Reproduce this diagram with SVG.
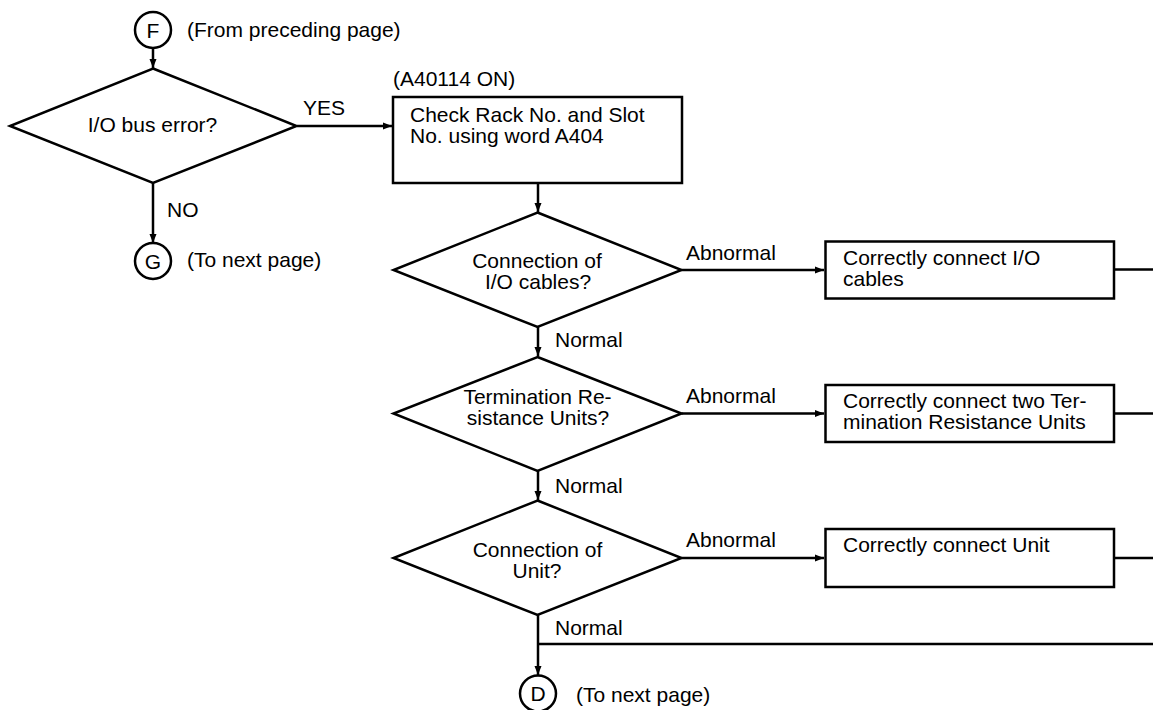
<svg xmlns="http://www.w3.org/2000/svg" width="1153" height="710" viewBox="0 0 1153 710">
<style>
.shape{fill:#fff;stroke:#000;stroke-width:2.5}
.ln{fill:none;stroke:#000;stroke-width:2.5}
.t{font-family:"Liberation Sans",Arial,sans-serif;font-size:21px;fill:#000}
.m{text-anchor:middle}
</style>
<defs>
<marker id="arr" markerUnits="userSpaceOnUse" markerWidth="10" markerHeight="8" refX="9" refY="4" orient="auto">
<path d="M0,0.5 L9,4 L0,7.5 Z" fill="#000"/>
</marker>
</defs>
<rect width="1153" height="710" fill="#fff"/>
<g id="connectors">
<path class="ln" d="M153,48 V68" marker-end="url(#arr)"/>
<path class="ln" d="M297,126 H392" marker-end="url(#arr)"/>
<path class="ln" d="M153,183 V243" marker-end="url(#arr)"/>
<path class="ln" d="M538,183 V212" marker-end="url(#arr)"/>
<path class="ln" d="M681.5,270 H824" marker-end="url(#arr)"/>
<path class="ln" d="M538,327 V356" marker-end="url(#arr)"/>
<path class="ln" d="M681.5,413.5 H824" marker-end="url(#arr)"/>
<path class="ln" d="M538,471 V500" marker-end="url(#arr)"/>
<path class="ln" d="M681.5,558 H824" marker-end="url(#arr)"/>
<path class="ln" d="M538,615 V675" marker-end="url(#arr)"/>
<path class="ln" d="M538,644 H1153"/>
<path class="ln" d="M1114,269.5 H1153"/>
<path class="ln" d="M1114,413.5 H1153"/>
<path class="ln" d="M1114,558 H1153"/>
<text class="t" x="303" y="115">YES</text>
<text class="t" x="167" y="217">NO</text>
<text class="t" x="686" y="260">Abnormal</text>
<text class="t" x="555" y="347">Normal</text>
<text class="t" x="686" y="403">Abnormal</text>
<text class="t" x="555" y="493">Normal</text>
<text class="t" x="686" y="547">Abnormal</text>
<text class="t" x="555" y="635">Normal</text>
</g>
<g id="node-F">
<circle class="shape" cx="153" cy="30" r="18"/>
<text class="t m" x="153" y="37.5">F</text>
<text class="t" x="187" y="37">(From preceding page)</text>
</g>
<g id="node-io-bus">
<polygon class="shape" points="153,68.5 296.5,126 153,183 10,126"/>
<text class="t m" x="152.5" y="132">I/O bus error?</text>
</g>
<g id="node-G">
<circle class="shape" cx="153" cy="261" r="18"/>
<text class="t m" x="153" y="268.5">G</text>
<text class="t" x="187" y="267">(To next page)</text>
</g>
<g id="node-check-rack">
<text class="t" x="393" y="86">(A40114 ON)</text>
<rect class="shape" x="393" y="97" width="289" height="86"/>
<text class="t" x="410" y="122">Check Rack No. and Slot</text>
<text class="t" x="410" y="143">No. using word A404</text>
</g>
<g id="node-io-cables">
<polygon class="shape" points="537.5,212.5 681.5,270 537.5,327 393.5,270"/>
<text class="t m" x="537" y="268">Connection of</text>
<text class="t m" x="538" y="289">I/O cables?</text>
</g>
<g id="node-fix-cables">
<rect class="shape" x="825.5" y="241.5" width="288.5" height="57"/>
<text class="t" x="843" y="265">Correctly connect I/O</text>
<text class="t" x="843" y="286">cables</text>
</g>
<g id="node-termination">
<polygon class="shape" points="537.5,357 681.5,413.5 537.5,471 393.5,413.5"/>
<text class="t m" x="537.5" y="404">Termination Re-</text>
<text class="t m" x="538" y="425">sistance Units?</text>
</g>
<g id="node-fix-termination">
<rect class="shape" x="825.5" y="385" width="288.5" height="57"/>
<text class="t" x="843" y="408">Correctly connect two Ter-</text>
<text class="t" x="843" y="429">mination Resistance Units</text>
</g>
<g id="node-unit">
<polygon class="shape" points="537.5,500.5 681.5,558 537.5,615 393.5,558"/>
<text class="t m" x="537.5" y="557">Connection of</text>
<text class="t m" x="537" y="578">Unit?</text>
</g>
<g id="node-fix-unit">
<rect class="shape" x="825.5" y="529" width="288.5" height="58"/>
<text class="t" x="843" y="552">Correctly connect Unit</text>
</g>
<g id="node-D">
<circle class="shape" cx="538" cy="693.5" r="18"/>
<text class="t m" x="538" y="701">D</text>
<text class="t" x="576" y="702">(To next page)</text>
</g>
</svg>
